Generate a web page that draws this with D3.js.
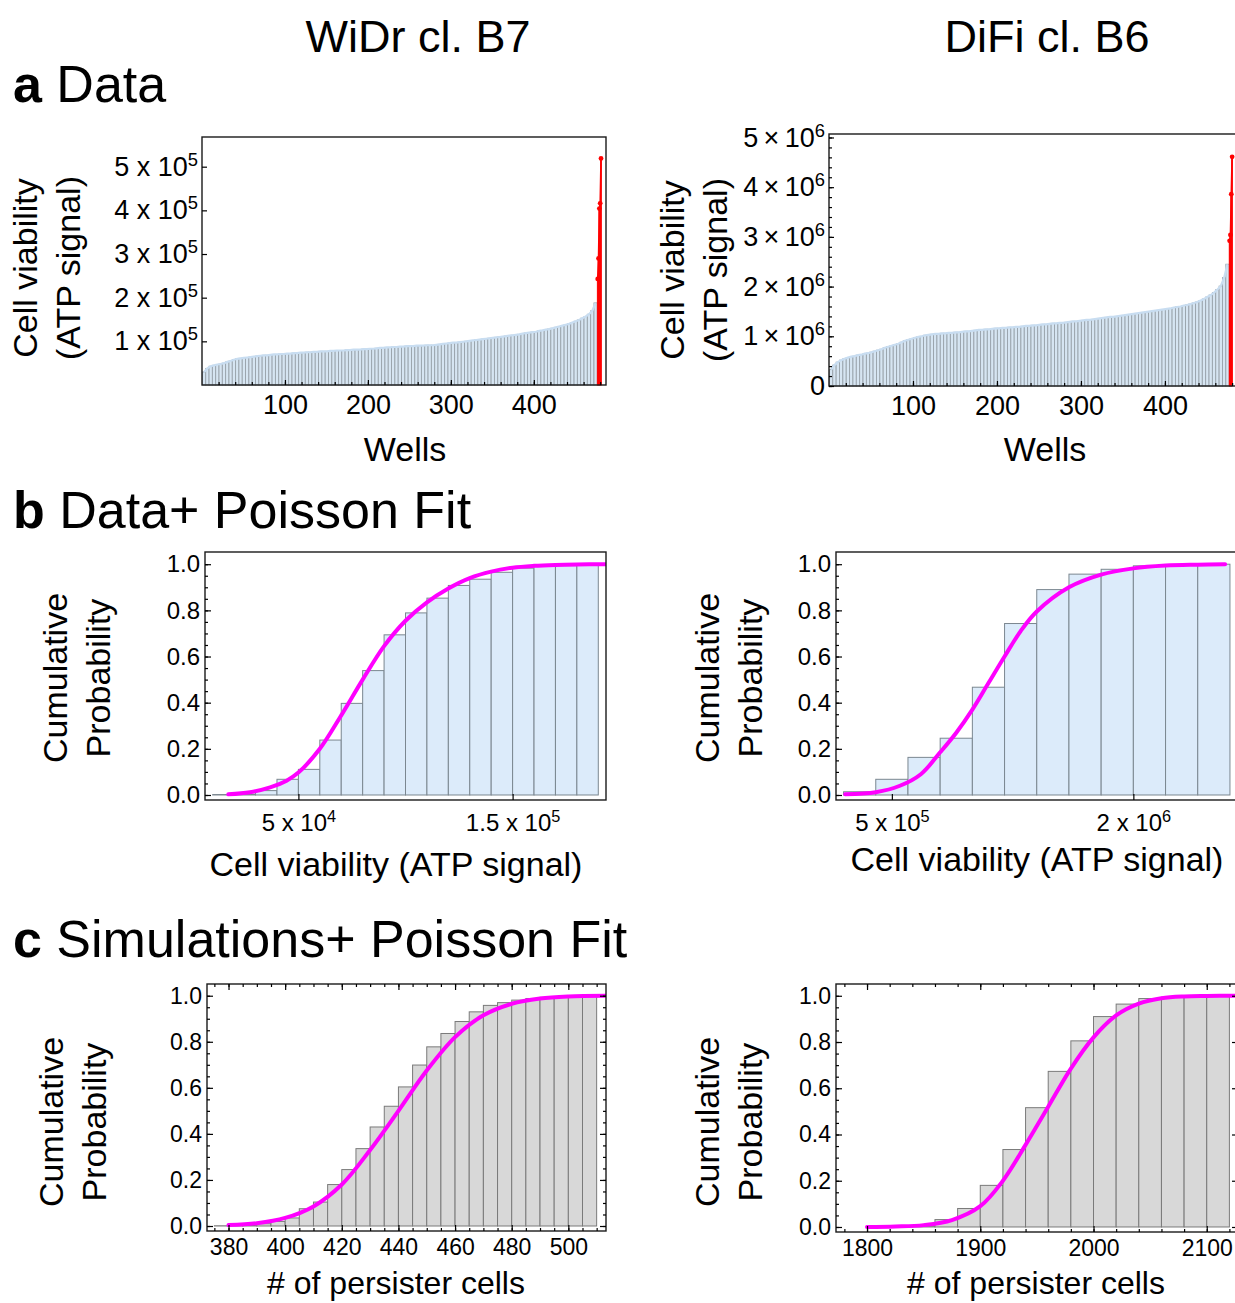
<!DOCTYPE html>
<html>
<head>
<meta charset="utf-8">
<script src="https://cdn.jsdelivr.net/npm/d3@7"></script>
<style>
  body { margin: 0; background: #fff; }
  text { font-family: "Liberation Sans", Arial, Helvetica, sans-serif; fill: #000; }
</style>
</head>
<body>
<svg id="fig" width="1235" height="1303"></svg>
<script>
// ---------- data ----------
// panel a: sorted well signals, one value per block of 4 wells
// WiDr values in units of 1e3, DiFi values in units of 1e4
var widrWells = [30, 38, 43, 45, 47, 48, 50, 53, 55, 58,
                 60, 61, 62, 63, 64, 65, 66, 67, 68, 68,
                 69, 70, 70, 71, 71, 72, 72, 73, 73, 74,
                 74, 75, 75, 76, 76, 77, 77, 77, 78, 78,
                 79, 79, 79, 80, 80, 81, 81, 81, 82, 82,
                 83, 83, 84, 85, 85, 86, 86, 87, 87, 88,
                 88, 89, 89, 89, 90, 90, 90, 91, 91, 91,
                 92, 93, 94, 95, 96, 97, 97, 98, 99, 100,
                 101, 102, 103, 104, 105, 106, 107, 108, 109, 110,
                 111, 112, 113, 114, 115, 116, 118, 119, 120, 121,
                 122, 124, 125, 127, 128, 130, 132, 134, 136, 138,
                 140, 143, 146, 149, 153, 157, 162, 170, 188];
var widrOutliers = [243, 290, 404, 416, 519];

var difiWells = [33, 42, 48, 52, 55, 57, 59, 60, 62, 63,
                 65, 66, 68, 70, 72, 74, 77, 79, 81, 83,
                 85, 88, 91, 93, 95, 97, 99, 100, 102, 103,
                 104, 105, 105, 106, 106, 107, 107, 108, 108, 109,
                 110, 110, 111, 112, 113, 113, 114, 114, 115, 116,
                 116, 117, 117, 118, 118, 119, 119, 120, 121, 121,
                 122, 122, 123, 124, 124, 125, 126, 126, 127, 127,
                 128, 129, 130, 130, 131, 132, 133, 133, 134, 135,
                 136, 137, 138, 139, 139, 140, 141, 142, 143, 144,
                 145, 146, 147, 148, 149, 150, 151, 152, 153, 154,
                 155, 156, 158, 159, 160, 162, 163, 165, 167, 169,
                 172, 175, 179, 183, 188, 194, 201, 218, 245];
var difiOutliers = [292, 304, 386, 461];

// panel b: cumulative histograms of the data + Poisson fit
var bWidrBins = [1e4, 2e4, 3e4, 4e4, 5e4, 6e4, 7e4, 8e4, 9e4, 10e4, 11e4, 12e4, 13e4, 14e4, 15e4, 16e4, 17e4, 18e4];
var bWidrCum  = [0.002, 0.003, 0.019, 0.068, 0.111, 0.238, 0.397, 0.539, 0.694, 0.789, 0.853, 0.908, 0.935, 0.965, 0.983, 0.991, 0.994, 0.997];
var bWidrFitX = [1.73e4, 2.74e4, 3.68e4, 4.45e4, 5e4, 6e4, 7e4, 8e4, 9e4, 10e4, 11e4, 12e4, 13e4, 14e4, 15e4, 16e4, 17e4, 18e4, 19.36e4];
var bWidrFitY = [0.003, 0.012, 0.033, 0.062, 0.097, 0.2, 0.345, 0.5, 0.645, 0.755, 0.835, 0.895, 0.94, 0.968, 0.985, 0.993, 0.997, 0.999, 1.0];

var bDifiBins = [2e5, 4e5, 6e5, 8e5, 10e5, 12e5, 14e5, 16e5, 18e5, 20e5, 22e5, 24e5];
var bDifiCum  = [0.014, 0.068, 0.163, 0.246, 0.467, 0.743, 0.89, 0.957, 0.978, 0.993, 0.997, 1.0];
var bDifiFitX = [2.1e5, 4.0e5, 5.5e5, 6.8e5, 8.0e5, 9.0e5, 10.0e5, 11.0e5, 12.0e5, 13.0e5, 14.0e5, 16e5, 18e5, 20e5, 22e5, 24e5, 25.7e5];
var bDifiFitY = [0.003, 0.012, 0.04, 0.09, 0.185, 0.27, 0.37, 0.485, 0.6, 0.71, 0.795, 0.9, 0.955, 0.982, 0.994, 0.998, 1.0];

// panel c: cumulative histograms of simulated persister counts + Poisson fit
var cWidrBins = [375, 380, 385, 390, 395, 400, 405, 410, 415, 420, 425, 430, 435, 440, 445,
                 450, 455, 460, 465, 470, 475, 480, 485, 490, 495, 500, 505];
var cWidrCum  = [0.001, 0.002, 0.004, 0.01, 0.02, 0.035, 0.075, 0.104, 0.18, 0.245, 0.336, 0.43, 0.52, 0.604, 0.699,
                 0.778, 0.836, 0.888, 0.93, 0.958, 0.97, 0.981, 0.988, 0.993, 0.996, 0.998, 1.0];
var cWidrFitX = [380, 390, 400, 410, 420, 430, 440, 450, 460, 470, 480, 490, 500, 513];
var cWidrFitY = [0.004, 0.012, 0.035, 0.085, 0.18, 0.33, 0.5, 0.675, 0.82, 0.915, 0.965, 0.988, 0.997, 1.0];

var cDifiBins = [1780, 1800, 1820, 1840, 1860, 1880, 1900, 1920, 1940, 1960, 1980, 2000, 2020, 2040, 2060, 2080, 2100];
var cDifiCum  = [0.0, 0.0, 0.002, 0.005, 0.032, 0.08, 0.18, 0.335, 0.516, 0.673, 0.805, 0.91, 0.964, 0.988, 0.994, 0.997, 1.0];
var cDifiFitX = [1800, 1825, 1850, 1875, 1900, 1920, 1940, 1960, 1980, 2000, 2020, 2040, 2060, 2080, 2100, 2127];
var cDifiFitY = [0.0, 0.002, 0.008, 0.03, 0.09, 0.2, 0.355, 0.52, 0.685, 0.82, 0.915, 0.966, 0.989, 0.997, 0.999, 1.0];

// ---------- helpers ----------
var svg = d3.select("#fig");
var probTicks = [0, 0.2, 0.4, 0.6, 0.8, 1.0];
var probMinor = d3.range(0, 1.001, 0.05);

function powLabel(text, mant, exp, sep) {
    text.text(null);
    text.append("tspan").text(mant + sep + "10");
    text.append("tspan").attr("dy", "-0.55em").attr("font-size", "0.68em").text(exp);
}

function styleAxis(g, fontSize) {
    g.select(".domain").remove();
    g.selectAll(".tick line").attr("stroke", "#000").attr("stroke-width", 1.2);
    g.selectAll(".tick text").attr("font-size", fontSize).attr("fill", "#000")
        .style("font-family", "'Liberation Sans', Arial, sans-serif");
}

function frame(g, x0, y0, x1, y1) {
    g.append("rect")
        .attr("x", x0).attr("y", y0)
        .attr("width", x1 - x0).attr("height", y1 - y0)
        .attr("fill", "none").attr("stroke", "#1a1a1a").attr("stroke-width", 1.4);
}

function vTitle(g, lines, xs, cy, size) {
    lines.forEach(function(t, i) {
        g.append("text")
            .attr("transform", "translate(" + xs[i] + "," + cy + ") rotate(-90)")
            .attr("text-anchor", "middle").attr("dominant-baseline", "central")
            .attr("font-size", size).text(t);
    });
}

function hTitle(g, t, cx, by, size) {
    g.append("text").attr("x", cx).attr("y", by)
        .attr("text-anchor", "middle").attr("font-size", size).text(t);
}

// panel a: sorted wells as filled bars, outliers in red
function wellsPanel(cfg) {
    var g = svg.append("g");
    var x = d3.scaleLinear().domain([0, cfg.xmax]).range([cfg.x0, cfg.x1]);
    var y = d3.scaleLinear().domain([0, cfg.ymax]).range([cfg.y1, cfg.y0]);
    var bars = cfg.vals.map(function(v, i) {
        return {a: i * 4 + 0.5, b: i * 4 + 4.5, v: v * cfg.unit};
    });
    var n = cfg.vals.length * 4;
    var reds = cfg.out.map(function(v, i) {
        return {a: n + i + 0.5, b: n + i + 1.5, v: v * cfg.unit};
    });

    g.selectAll("rect.well").data(bars).enter().append("rect")
        .attr("x", function(d) { return x(d.a); })
        .attr("width", function(d) { return x(d.b) - x(d.a); })
        .attr("y", function(d) { return y(d.v); })
        .attr("height", function(d) { return y(0) - y(d.v); })
        .attr("fill", "#d6e5f2").attr("stroke", "#98a2aa").attr("stroke-width", 0.9);

    g.append("path").datum(bars)
        .attr("fill", "none").attr("stroke", "#c8ddf1").attr("stroke-width", 2.2)
        .attr("d", d3.line().x(function(d) { return x((d.a + d.b) / 2); }).y(function(d) { return y(d.v); }));

    g.selectAll("rect.red").data(reds).enter().append("rect")
        .attr("x", function(d) { return x(d.a); })
        .attr("width", function(d) { return x(d.b) - x(d.a); })
        .attr("y", function(d) { return y(d.v); })
        .attr("height", function(d) { return y(0) - y(d.v); })
        .attr("fill", "#ff0000").attr("stroke", "#ff0000").attr("stroke-width", 0.8);
    g.append("path").datum(reds)
        .attr("fill", "none").attr("stroke", "#ff0000").attr("stroke-width", 1.6)
        .attr("d", d3.line().x(function(d) { return x((d.a + d.b) / 2); }).y(function(d) { return y(d.v); }));
    g.selectAll("circle.red").data(reds).enter().append("circle")
        .attr("cx", function(d) { return x((d.a + d.b) / 2); })
        .attr("cy", function(d) { return y(d.v); })
        .attr("r", 2.4).attr("fill", "#ff0000");

    frame(g, cfg.x0, cfg.y0, cfg.x1, cfg.y1);

    // ticks
    var xa = g.append("g").attr("transform", "translate(0," + cfg.y1 + ")")
        .call(d3.axisBottom(x).tickValues([100, 200, 300, 400]).tickSize(-5).tickPadding(10));
    styleAxis(xa, 27);
    var xm = g.append("g").attr("transform", "translate(0," + cfg.y1 + ")")
        .call(d3.axisBottom(x).tickValues(d3.range(20, cfg.xmax, 20)).tickSize(-3).tickFormat(""));
    styleAxis(xm, 0);

    var ya = g.append("g").attr("transform", "translate(" + cfg.x0 + ",0)")
        .call(d3.axisLeft(y).tickValues(cfg.yticks).tickSize(-5).tickPadding(4));
    styleAxis(ya, 27);
    ya.selectAll(".tick text").each(function(d) {
        if (d === 0) return;
        powLabel(d3.select(this), Math.round(d / cfg.ypow), cfg.yexp, cfg.sep);
    });
    if (cfg.yminor) {
        var ym = g.append("g").attr("transform", "translate(" + cfg.x0 + ",0)")
            .call(d3.axisLeft(y).tickValues(cfg.yminor).tickSize(-3).tickFormat(""));
        styleAxis(ym, 0);
    }
    return g;
}

// panels b and c: cumulative histogram with fitted curve
function histPanel(cfg) {
    var g = svg.append("g");
    var x = d3.scaleLinear().domain(cfg.xdom).range([cfg.x0, cfg.x1]);
    var y = d3.scaleLinear().domain([cfg.ylow, cfg.yhigh]).range([cfg.y1, cfg.y0]);
    var defs = svg.select("defs").empty() ? svg.append("defs") : svg.select("defs");
    defs.append("clipPath").attr("id", cfg.id)
        .append("rect").attr("x", cfg.x0).attr("y", cfg.y0)
        .attr("width", cfg.x1 - cfg.x0).attr("height", cfg.y1 - cfg.y0);

    var inner = g.append("g").attr("clip-path", "url(#" + cfg.id + ")");
    inner.selectAll("rect.bin").data(cfg.bins).enter().append("rect")
        .attr("x", function(d) { return x(d); })
        .attr("width", x(cfg.bw) - x(0))
        .attr("y", function(d, i) { return y(cfg.cum[i]); })
        .attr("height", function(d, i) { return y(0) - y(cfg.cum[i]); })
        .attr("fill", cfg.fill).attr("stroke", cfg.edge).attr("stroke-width", 1);

    var pts = cfg.fitX.map(function(v, i) { return [v, cfg.fitY[i]]; });
    inner.append("path").datum(pts)
        .attr("fill", "none").attr("stroke", "#ff00ff").attr("stroke-width", 4)
        .attr("stroke-linecap", "round").attr("stroke-linejoin", "round")
        .attr("d", d3.line().curve(d3.curveCatmullRom.alpha(0.5))
            .x(function(d) { return x(d[0]); }).y(function(d) { return y(d[1]); }));

    frame(g, cfg.x0, cfg.y0, cfg.x1, cfg.y1);

    var ya = g.append("g").attr("transform", "translate(" + cfg.x0 + ",0)")
        .call(d3.axisLeft(y).tickValues(probTicks).tickFormat(d3.format(".1f")).tickSize(-6).tickPadding(5));
    styleAxis(ya, cfg.tickFont);
    var ym = g.append("g").attr("transform", "translate(" + cfg.x0 + ",0)")
        .call(d3.axisLeft(y).tickValues(probMinor).tickSize(-3).tickFormat(""));
    styleAxis(ym, 0);

    var xa = g.append("g").attr("transform", "translate(0," + cfg.y1 + ")")
        .call(d3.axisBottom(x).tickValues(cfg.xticks).tickFormat(d3.format("d")).tickSize(-6).tickPadding(cfg.xpad));
    styleAxis(xa, cfg.tickFont);
    if (cfg.xpow) {
        xa.selectAll(".tick text").each(function(d, i) {
            powLabel(d3.select(this), cfg.xpow[i][0], cfg.xpow[i][1], " x ");
        });
    }
    if (cfg.xminor) {
        var xm = g.append("g").attr("transform", "translate(0," + cfg.y1 + ")")
            .call(d3.axisBottom(x).tickValues(cfg.xminor).tickSize(-3).tickFormat(""));
        styleAxis(xm, 0);
    }
    if (cfg.mirror) {
        var yr = g.append("g").attr("transform", "translate(" + cfg.x1 + ",0)")
            .call(d3.axisRight(y).tickValues(probTicks).tickSize(-6).tickFormat(""));
        styleAxis(yr, 0);
        var yrm = g.append("g").attr("transform", "translate(" + cfg.x1 + ",0)")
            .call(d3.axisRight(y).tickValues(probMinor).tickSize(-3).tickFormat(""));
        styleAxis(yrm, 0);
        var xt = g.append("g").attr("transform", "translate(0," + cfg.y0 + ")")
            .call(d3.axisTop(x).tickValues(cfg.xticks).tickSize(-6).tickFormat(""));
        styleAxis(xt, 0);
        if (cfg.xminor) {
            var xtm = g.append("g").attr("transform", "translate(0," + cfg.y0 + ")")
                .call(d3.axisTop(x).tickValues(cfg.xminor).tickSize(-3).tickFormat(""));
            styleAxis(xtm, 0);
        }
    }
    return g;
}

// ---------- titles ----------
hTitle(svg, "WiDr cl. B7", 418, 52, 45);
hTitle(svg, "DiFi cl. B6", 1047, 52, 45);

function sectionTitle(letter, rest, by) {
    var t = svg.append("text").attr("x", 13).attr("y", by).attr("font-size", 52);
    t.append("tspan").attr("font-weight", "bold").text(letter);
    t.append("tspan").text(" " + rest);
}
sectionTitle("a", "Data", 102);
sectionTitle("b", "Data+ Poisson Fit", 528);
sectionTitle("c", "Simulations+ Poisson Fit", 957);

// ---------- panel a ----------
wellsPanel({vals: widrWells, out: widrOutliers, unit: 1e3,
    x0: 202, x1: 606, y0: 137, y1: 385, xmax: 487, ymax: 5.68e5,
    yticks: [1e5, 2e5, 3e5, 4e5, 5e5], ypow: 1e5, yexp: "5", sep: " x "});
vTitle(svg, ["Cell viability", "(ATP signal)"], [25, 68], 268, 34);
hTitle(svg, "Wells", 405, 461, 34);

wellsPanel({vals: difiWells, out: difiOutliers, unit: 1e4,
    x0: 829, x1: 1238, y0: 134, y1: 386, xmax: 487, ymax: 5.07e6,
    yticks: [0, 1e6, 2e6, 3e6, 4e6, 5e6], ypow: 1e6, yexp: "6", sep: "\u2009\u00d7\u2009",
    yminor: d3.range(0, 5.01e6, 2e5)});
vTitle(svg, ["Cell viability", "(ATP signal)"], [672, 715], 270, 34);
hTitle(svg, "Wells", 1045, 461, 34);

// ---------- panel b ----------
histPanel({id: "cb1", bins: bWidrBins, cum: bWidrCum, bw: 1e4, fitX: bWidrFitX, fitY: bWidrFitY,
    x0: 205, x1: 606, y0: 552, y1: 800, xdom: [6.4e3, 1.936e5], ylow: -0.0217, yhigh: 1.0529,
    fill: "#dcebfa", edge: "#7b8790", tickFont: 24, xticks: [5e4, 1.5e5], xpad: 14,
    xpow: [["5", "4"], ["1.5", "5"]]});
vTitle(svg, ["Cumulative", "Probability"], [55, 98], 678, 34);
hTitle(svg, "Cell viability (ATP signal)", 396, 876, 34);

histPanel({id: "cb2", bins: bDifiBins, cum: bDifiCum, bw: 2e5, fitX: bDifiFitX, fitY: bDifiFitY,
    x0: 836, x1: 1238, y0: 552, y1: 800, xdom: [1.53e5, 2.65e6], ylow: -0.0217, yhigh: 1.0529,
    fill: "#dcebfa", edge: "#7b8790", tickFont: 24, xticks: [5e5, 2e6], xpad: 14,
    xpow: [["5", "5"], ["2", "6"]]});
vTitle(svg, ["Cumulative", "Probability"], [707, 750], 678, 34);
hTitle(svg, "Cell viability (ATP signal)", 1037, 871, 34);

// ---------- panel c ----------
histPanel({id: "cc1", bins: cWidrBins, cum: cWidrCum, bw: 5, fitX: cWidrFitX, fitY: cWidrFitY,
    x0: 207, x1: 606, y0: 984, y1: 1231, xdom: [372.4, 513.3], ylow: -0.0217, yhigh: 1.0509,
    fill: "#d8d8d8", edge: "#7a7a7a", tickFont: 23, xticks: d3.range(380, 501, 20), xpad: 8,
    xminor: d3.range(375, 513, 5), mirror: true});
vTitle(svg, ["Cumulative", "Probability"], [51, 94], 1122, 34);
hTitle(svg, "# of persister cells", 396, 1294, 32);

histPanel({id: "cc2", bins: cDifiBins, cum: cDifiCum, bw: 20, fitX: cDifiFitX, fitY: cDifiFitY,
    x0: 836, x1: 1238, y0: 984, y1: 1232, xdom: [1772.6, 2127.6], ylow: -0.0217, yhigh: 1.0509,
    fill: "#d8d8d8", edge: "#7a7a7a", tickFont: 23, xticks: [1800, 1900, 2000, 2100], xpad: 8,
    xminor: d3.range(1780, 2127, 20), mirror: true});
vTitle(svg, ["Cumulative", "Probability"], [707, 750], 1122, 34);
hTitle(svg, "# of persister cells", 1036, 1294, 32);
</script>
</body>
</html>
